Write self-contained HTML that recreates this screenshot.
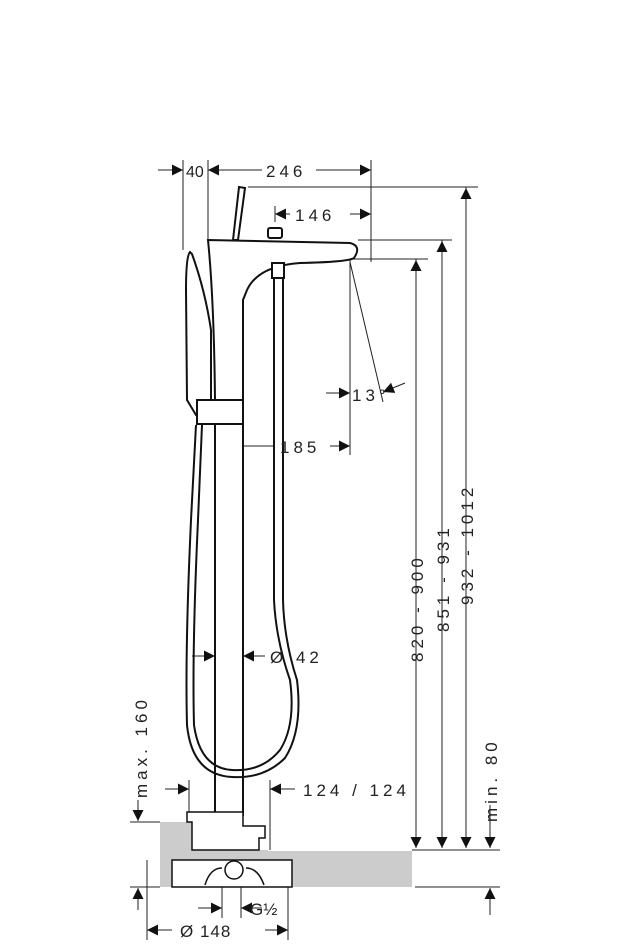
<!DOCTYPE html>
<html><head><meta charset="utf-8"><style>
html,body{margin:0;padding:0;background:#fff;}
svg{display:block;}
text{font-family:"Liberation Sans",sans-serif;font-size:17px;fill:#222;letter-spacing:4px;}
</style></head><body>
<svg width="636" height="950" viewBox="0 0 636 950" xmlns="http://www.w3.org/2000/svg">
<defs>
<marker id="a" viewBox="0 0 10 10" refX="10" refY="5" markerWidth="11" markerHeight="11" markerUnits="userSpaceOnUse" orient="auto"><path d="M0,0 L10,5 L0,10z" fill="#111"/></marker>
</defs>
<rect x="160" y="822" width="33" height="65" fill="#ccc"/>
<rect x="268" y="851" width="144" height="36" fill="#ccc"/>
<rect x="193" y="850" width="75" height="37" fill="#ccc"/>
<g stroke="#222" stroke-width="1" fill="none">
<line x1="183" y1="160" x2="183" y2="250"/>
<line x1="208" y1="160" x2="208" y2="240"/>
<line x1="371" y1="160" x2="371" y2="262"/>
<line x1="248" y1="187" x2="478" y2="187"/>
<line x1="358" y1="240" x2="452" y2="240"/>
<line x1="352" y1="259" x2="428" y2="259"/>
<line x1="416" y1="259" x2="416" y2="848" marker-end="url(#a)"/>
<line x1="442" y1="240" x2="442" y2="848" marker-end="url(#a)"/>
<line x1="466" y1="187" x2="466" y2="848" marker-end="url(#a)"/>
<line x1="490" y1="805" x2="490" y2="848" marker-end="url(#a)"/>
<line x1="412" y1="850" x2="500" y2="850"/>
<line x1="415" y1="887" x2="500" y2="887"/>
<line x1="490" y1="915" x2="490" y2="888" marker-end="url(#a)"/>
<line x1="130" y1="822" x2="160" y2="822"/>
<line x1="130" y1="887" x2="160" y2="887"/>
<line x1="138" y1="800" x2="138" y2="821" marker-end="url(#a)"/>
<line x1="138" y1="910" x2="138" y2="888" marker-end="url(#a)"/>
<line x1="158" y1="170" x2="183" y2="170" marker-end="url(#a)"/>
<line x1="228" y1="170" x2="208" y2="170" marker-end="url(#a)"/>
<line x1="228" y1="170" x2="262" y2="170"/>
<line x1="316" y1="170" x2="371" y2="170" marker-end="url(#a)"/>
<line x1="275" y1="206" x2="275" y2="222"/>
<line x1="290" y1="214" x2="275" y2="214" marker-end="url(#a)"/>
<line x1="350" y1="214" x2="371" y2="214" marker-end="url(#a)"/>
<line x1="466" y1="215" x2="466" y2="188" marker-end="url(#a)"/>
<line x1="442" y1="268" x2="442" y2="241" marker-end="url(#a)"/>
<line x1="416" y1="287" x2="416" y2="260" marker-end="url(#a)"/>
<line x1="350" y1="259" x2="350" y2="455"/>
<line x1="350" y1="262" x2="383" y2="402"/>
<line x1="326" y1="393" x2="350" y2="393" marker-end="url(#a)"/>
<line x1="405" y1="383" x2="383" y2="392" marker-end="url(#a)"/>
<line x1="232" y1="405" x2="232" y2="455"/>
<line x1="275" y1="446" x2="232" y2="446" marker-end="url(#a)"/>
<line x1="330" y1="446" x2="350" y2="446" marker-end="url(#a)"/>
<line x1="192" y1="656" x2="215" y2="656" marker-end="url(#a)"/>
<line x1="265" y1="656" x2="243" y2="656" marker-end="url(#a)"/>
<line x1="189" y1="780" x2="189" y2="822"/>
<line x1="270" y1="780" x2="270" y2="850"/>
<line x1="165" y1="789" x2="189" y2="789" marker-end="url(#a)"/>
<line x1="295" y1="789" x2="270" y2="789" marker-end="url(#a)"/>
<line x1="147" y1="860" x2="147" y2="940"/>
<line x1="288" y1="860" x2="288" y2="940"/>
<line x1="222" y1="880" x2="222" y2="918"/>
<line x1="241" y1="880" x2="241" y2="918"/>
<line x1="198" y1="908" x2="222" y2="908" marker-end="url(#a)"/>
<line x1="262" y1="908" x2="241" y2="908" marker-end="url(#a)"/>
<line x1="172" y1="930" x2="147" y2="930" marker-end="url(#a)"/>
<line x1="265" y1="930" x2="288" y2="930" marker-end="url(#a)"/>
</g>
<g stroke="#111" stroke-width="2" fill="#fff">
<path d="M233,240 L239,187 L245,188 L238,240z"/>
<rect x="268" y="228" width="14" height="10" rx="2"/>
<path d="M208,240 L350,243 Q362,246 354,258 Q348,262 300,263 Q258,266 247,290 L243,300 L243,815 L215,815 L215,400 Q214,300 208,240z"/>
<path d="M190,252 Q186,256 186,290 L187,400 L196,415 L211,415 L211,330 Q205,290 192,254z"/>
<rect x="197" y="400" width="46" height="24"/>
<rect x="272" y="263" width="12" height="15"/>
</g>
<g stroke="#111" stroke-width="2" fill="none">
<path d="M274,278 L274,600 Q276,640 290,680 Q296,725 280,750 Q262,772 232,770 Q200,768 194,725 Q192,650 198,520 L202,425"/>
<path d="M283,278 L283,600 Q284,640 297,680 Q303,730 285,758 Q264,779 232,777 Q192,775 187,725 Q185,650 191,520 L196,425"/>
<line x1="215" y1="424" x2="215" y2="815"/>
<line x1="243" y1="424" x2="243" y2="815"/>
</g>
<g stroke="#111" stroke-width="1.5" fill="#fff">
<path d="M187,812 L243,812 L243,826 L265,826 L265,838 L259,838 L259,850 L192,850 L192,822 L187,822z"/>
<rect x="172" y="860" width="120" height="27"/>
<circle cx="234" cy="870" r="9"/>
<path d="M205,885 Q210,868 222,868 M246,868 Q258,868 264,885" fill="none"/>
</g>
<text x="186" y="177" style="font-size:16px;letter-spacing:0">40</text>
<text x="266" y="177">246</text>
<text x="295" y="221">146</text>
<text x="352" y="401">13°</text>
<text x="280" y="453">185</text>
<text x="270" y="663">Ø 42</text>
<text x="303" y="796">124 / 124</text>
<text x="250" y="915" style="letter-spacing:0">G½</text>
<text x="180" y="937" style="letter-spacing:1px">Ø 148</text>
<text transform="translate(423,662) rotate(-90)">820 - 900</text>
<text transform="translate(449,632) rotate(-90)">851 - 931</text>
<text transform="translate(473,605) rotate(-90)">932 - 1012</text>
<text transform="translate(497,822) rotate(-90)">min. 80</text>
<text transform="translate(147,798) rotate(-90)">max. 160</text>
</svg>
</body></html>
